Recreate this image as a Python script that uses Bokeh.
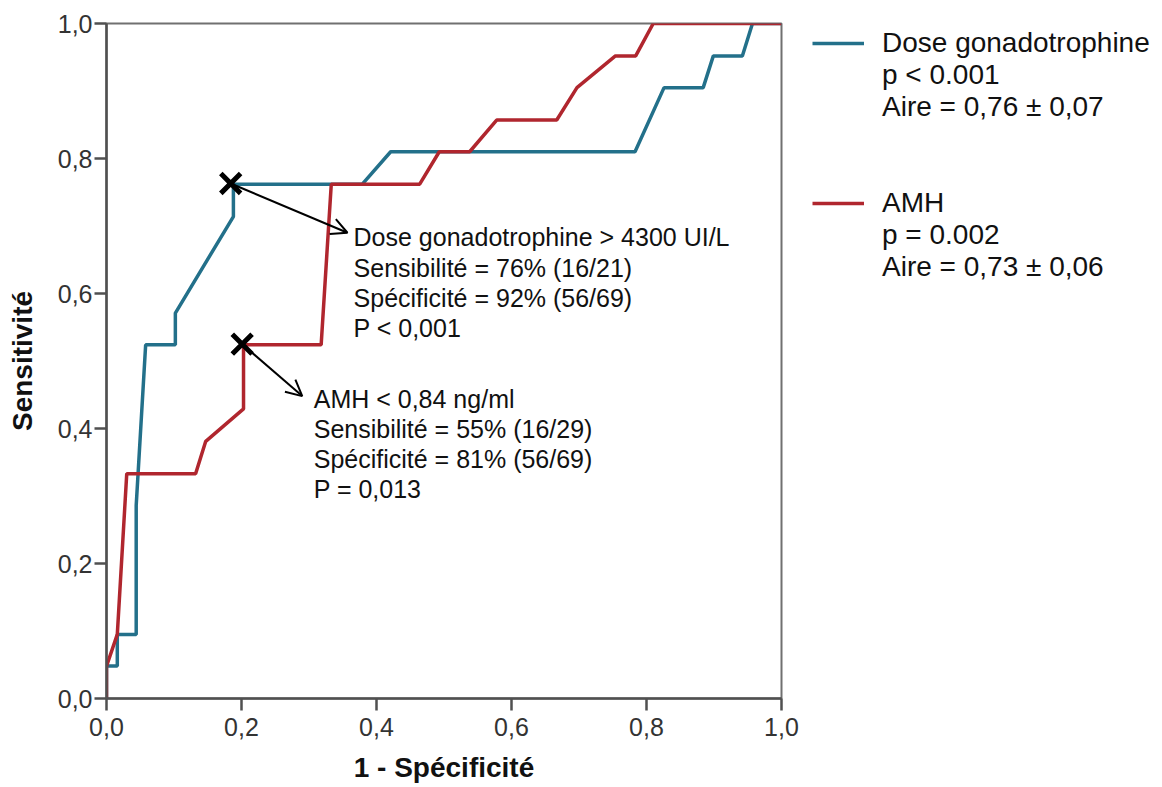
from bokeh.plotting import figure
from bokeh.models import Range1d, FixedTicker, Label, Arrow, OpenHead, Legend, LegendItem
from bokeh.embed import file_html
from bokeh.resources import INLINE

# ---- data ----
dose_fpr = [0.0, 0.0, 0.016, 0.016, 0.044, 0.044, 0.058, 0.102, 0.102, 0.188,
            0.188, 0.379, 0.421, 0.783, 0.826, 0.884, 0.899, 0.942, 0.957, 1.0]
dose_sens = [0.0, 0.048, 0.048, 0.095, 0.095, 0.286, 0.524, 0.524, 0.571, 0.714,
             0.762, 0.762, 0.810, 0.810, 0.905, 0.905, 0.952, 0.952, 1.0, 1.0]
amh_fpr = [0.0, 0.0, 0.016, 0.030, 0.132, 0.147, 0.203, 0.203, 0.318, 0.333,
           0.464, 0.493, 0.538, 0.578, 0.667, 0.697, 0.754, 0.784, 0.810, 1.0]
amh_sens = [0.0, 0.048, 0.095, 0.333, 0.333, 0.381, 0.429, 0.524, 0.524, 0.762,
            0.762, 0.810, 0.810, 0.857, 0.857, 0.905, 0.952, 0.952, 1.0, 1.0]

ticks = [0.0, 0.2, 0.4, 0.6, 0.8, 1.0]
tick_labels = ["0,0", "0,2", "0,4", "0,6", "0,8", "1,0"]

cut_fpr = [0.184, 0.201]
cut_sens = [0.763, 0.525]
arrow_tip_fpr = [0.357, 0.290]
arrow_tip_sens = [0.690, 0.448]

legend_labels = ["Dose gonadotrophine", "AMH"]
legend_stats = [["p < 0.001", "Aire = 0,76 ± 0,07"],
                ["p = 0.002", "Aire = 0,73 ± 0,06"]]
dose_note = ["Dose gonadotrophine > 4300 UI/L", "Sensibilité = 76% (16/21)",
             "Spécificité = 92% (56/69)", "P < 0,001"]
amh_note = ["AMH < 0,84 ng/ml", "Sensibilité = 55% (16/29)",
            "Spécificité = 81% (56/69)", "P = 0,013"]

BLUE = "#23708a"
RED = "#b0262e"
AXIS = "#505050"
FONT = "Liberation Sans"

p = figure(frame_width=675, frame_height=675,
           x_range=Range1d(0, 1), y_range=Range1d(0, 1),
           output_backend="svg", toolbar_location=None,
           min_border_left=106, min_border_right=381,
           min_border_top=23, min_border_bottom=89,
           background_fill_color="white", border_fill_color="white")

p.grid.visible = False
p.outline_line_color = "#707070"
p.outline_line_width = 2

for ax in (p.xaxis[0], p.yaxis[0]):
    ax.ticker = FixedTicker(ticks=ticks)
    ax.major_label_overrides = dict(zip(ticks, tick_labels))
    ax.minor_tick_line_color = None
    ax.major_tick_out = 12
    ax.major_tick_in = 0
    ax.axis_line_width = 2.5
    ax.axis_line_color = AXIS
    ax.major_tick_line_width = 2.5
    ax.major_tick_line_color = AXIS
    ax.major_label_text_font = FONT
    ax.major_label_text_font_size = "25px"
    ax.major_label_text_color = "#333333"
    ax.axis_label_text_font = FONT
    ax.axis_label_text_font_style = "bold"
    ax.axis_label_text_font_size = "28px"
    ax.axis_label_text_color = "#111111"

p.xaxis.axis_label = "1 - Spécificité"
p.yaxis.axis_label = "Sensitivité"
p.xaxis.major_label_standoff = 7
p.yaxis.major_label_standoff = 2
p.xaxis.axis_label_standoff = 13
p.yaxis.axis_label_standoff = 17

r_dose = p.line(dose_fpr, dose_sens, line_color=BLUE, line_width=3.5)
r_amh = p.line(amh_fpr, amh_sens, line_color=RED, line_width=3.5)
# invisible renderer used only for text-only legend rows
r_blank = p.line([], [], line_alpha=0)

# cut-off markers and arrows
p.scatter(cut_fpr, cut_sens, marker="x", size=28, line_width=5, line_color="black")
for i in range(2):
    p.add_layout(Arrow(x_start=cut_fpr[i], y_start=cut_sens[i],
                       x_end=arrow_tip_fpr[i], y_end=arrow_tip_sens[i],
                       line_width=2, line_color="black",
                       end=OpenHead(size=16, line_width=2, line_color="black")))

# annotation texts
note_font = "25px"
dose_x, dose_y0 = 0.366, 0.683
amh_x, amh_y0 = 0.307, 0.4434
step = 0.0445
for j, t in enumerate(dose_note):
    p.add_layout(Label(x=dose_x, y=dose_y0 - j * step, text=t, text_font=FONT,
                       text_font_size=note_font, text_baseline="middle",
                       text_color="#111111"))
for j, t in enumerate(amh_note):
    p.add_layout(Label(x=amh_x, y=amh_y0 - j * step, text=t, text_font=FONT,
                       text_font_size=note_font, text_baseline="middle",
                       text_color="#111111"))

# legend (series name, then its statistics, as rows)
items = [
    LegendItem(label=legend_labels[0], renderers=[r_dose]),
    LegendItem(label=legend_stats[0][0], renderers=[r_blank]),
    LegendItem(label=legend_stats[0][1], renderers=[r_blank]),
    LegendItem(label=" ", renderers=[r_blank]),
    LegendItem(label="  ", renderers=[r_blank]),
    LegendItem(label=legend_labels[1], renderers=[r_amh]),
    LegendItem(label=legend_stats[1][0], renderers=[r_blank]),
    LegendItem(label=legend_stats[1][1], renderers=[r_blank]),
]
legend = Legend(items=items, location=(31, 415), orientation="vertical",
                label_text_font=FONT, label_text_font_size="28px",
                label_text_color="#111111",
                glyph_width=52, glyph_height=32, label_height=32,
                label_standoff=18, spacing=0, padding=0, margin=0,
                border_line_alpha=0, background_fill_alpha=0)
p.add_layout(legend, "right")

open("out.html", "w").write(file_html(p, INLINE))
